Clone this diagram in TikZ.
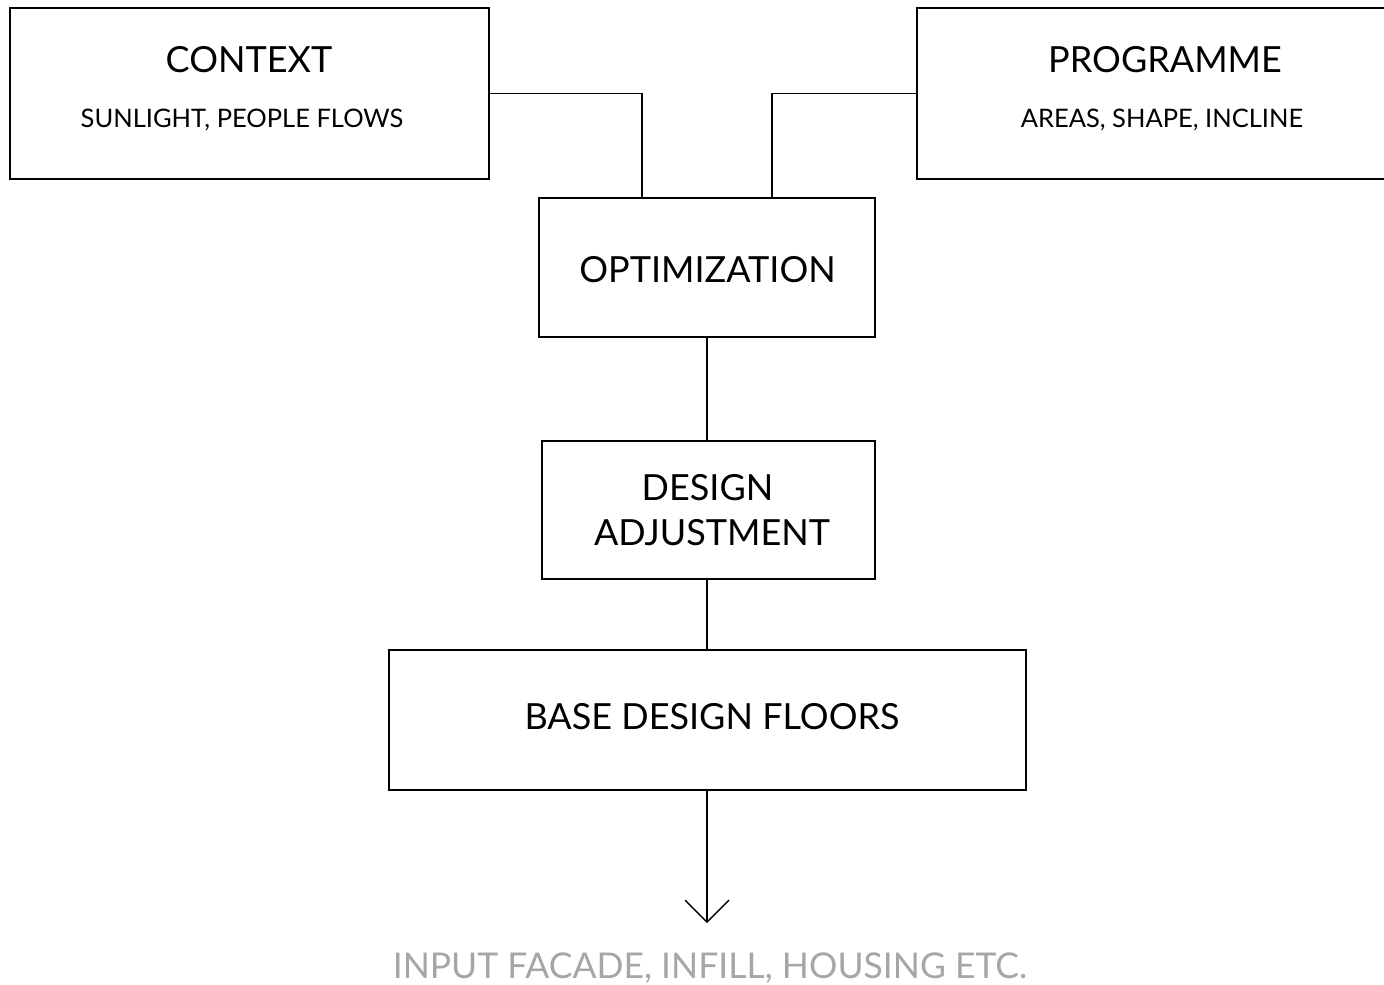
\documentclass[tikz,border=0pt]{standalone}
\usepackage{fontspec}
\setmainfont{Lato}
\usetikzlibrary{arrows.meta}
\definecolor{lightgraytext}{HTML}{A6A6A6}
\begin{document}
\begin{tikzpicture}[x=1pt,y=-1pt,
  box/.style={draw=black, line width=1.5pt, rectangle, inner sep=0pt},
  conn/.style={draw=black, line width=1.3pt},
  titletext/.style={anchor=base, inner sep=0pt, font=\fontsize{36}{42}\selectfont},
  subtext/.style={anchor=base, inner sep=0pt, font=\fontsize{25.5}{30}\selectfont},
  outtext/.style={anchor=base, inner sep=0pt, text=lightgraytext, font=\fontsize{35.5}{40}\selectfont}]
\useasboundingbox (0,0) rectangle (1384,985);
\clip (0,0) rectangle (1384,985);
% boxes
\node[box, minimum width=479pt, minimum height=171pt] (ctx) at (249.5,93.5) {};
\node[box, minimum width=498pt, minimum height=171pt] (prg) at (1166,93.5) {};
\node[box, minimum width=336pt, minimum height=139pt] (opt) at (707,267.5) {};
\node[box, minimum width=333pt, minimum height=138pt] (adj) at (708.5,510) {};
\node[box, minimum width=637pt, minimum height=140pt] (base) at (707.5,720) {};
% texts
\node[titletext] (ctxT) at (249,72) {CONTEXT};
\node[subtext] (ctxS) at (242,127) {SUNLIGHT, PEOPLE FLOWS};
\node[titletext] (prgT) at (1165,72) {PROGRAMME};
\node[subtext] (prgS) at (1162,127) {AREAS, SHAPE, INCLINE};
\node[titletext] (optT) at (707.5,282) {OPTIMIZATION};
\node[titletext] (adjT1) at (707.5,500) {DESIGN};
\node[titletext] (adjT2) at (712,545) {ADJUSTMENT};
\node[titletext] (baseT) at (712,729) {BASE DESIGN FLOORS};
\node[outtext] (out) at (710,978) {INPUT FACADE, INFILL, HOUSING ETC.};
% connectors
\draw[conn] (ctx.east) -| ([xshift=-65pt]opt.north);
\draw[conn] (prg.west) -| ([xshift=65pt]opt.north);
\draw[conn] (opt.south) -- (opt.south |- adj.north);
\draw[conn] (opt.south |- adj.south) -- (opt.south |- base.north);
\coordinate (tip) at (707,923);
\draw[conn, -{Straight Barb[angle=90:31pt, line width=1.3pt]}] (opt.south |- base.south) -- (tip);
\end{tikzpicture}
\end{document}
